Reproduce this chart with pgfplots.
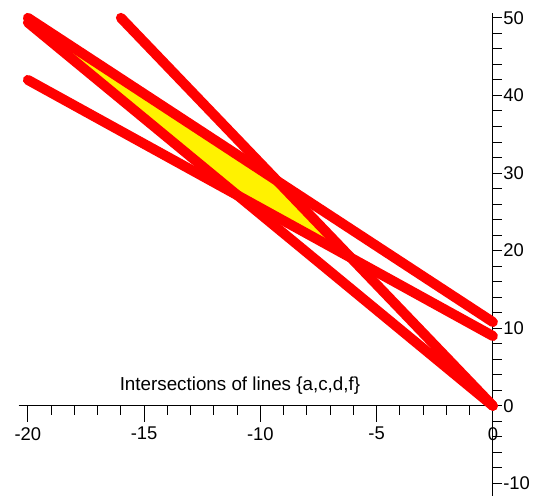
\documentclass[border=0pt]{standalone}
\usepackage{fontspec}
\setmainfont{Liberation Sans}
\usepackage{pgfplots}
\pgfplotsset{compat=1.18}
\begin{document}
\fontsize{9}{11}\selectfont
\begin{tikzpicture}
\begin{axis}[
    x=11.625pt, y=3.88pt,
    axis lines=middle,
    axis line style={-, line width=0.5pt},
    xmin=-20.4, xmax=0, ymin=-11.6, ymax=50.6,
    xtick={-20,-15,...,0}, ytick={-10,0,...,50},
    minor x tick num=4, minor y tick num=4,
    hide obscured x ticks=false, hide obscured y ticks=false,
    tick align=center,
    major tick length=8pt, minor tick length=4.5pt,
    every tick/.style={black, line width=0.5pt},
    every major x tick/.append style={yshift=-4pt},
    every minor x tick/.append style={yshift=-2.25pt},
    every major y tick/.append style={dash pattern=on 0pt off 1.75pt on 4.5pt off 20pt, xshift=2.25pt},
    every minor y tick/.append style={xshift=2.25pt},
    /pgf/number format/assume math mode=true,
    xticklabel style={anchor=north, yshift=-3.5pt, font=\fontsize{9.2}{11}\selectfont},
    yticklabel style={anchor=west, xshift=6pt, font=\fontsize{9.2}{11}\selectfont},
    clip=false, no markers,
    every axis plot/.append style={line width=5pt, line cap=round, line join=round},
]
% feasible region
\addplot[fill=yellow, draw=none] coordinates {
(-20,49.4) (-20,50) (-9.270,28.97) (-6.102,19.07) (-10.976,27.11)
};
% lines a, c, d, f
\addplot[red] coordinates {(-20,49.4) (0,0)};
\addplot[red] coordinates {(-16,50) (0,0)};
\addplot[red] coordinates {(-20,50) (0,10.8)};
\addplot[red] coordinates {(-20,42) (0,9)};
\node[font=\fontsize{9.4}{11}\selectfont] at (axis cs:-10.88,2.6) {Intersections of lines \{a,c,d,f\}};
\path (axis cs:-21.2,-11.6) rectangle (axis cs:2.37,52.3);
\end{axis}
\end{tikzpicture}
\end{document}
